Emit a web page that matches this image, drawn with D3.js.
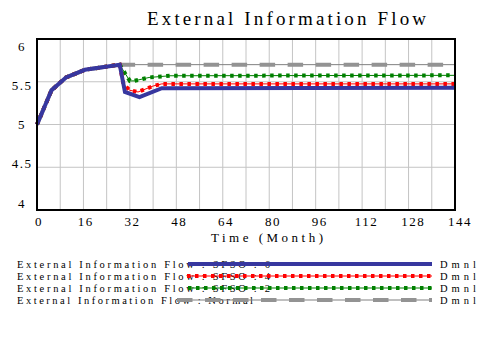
<!DOCTYPE html>
<html><head><meta charset="utf-8">
<script src="https://cdn.jsdelivr.net/npm/d3@7"></script>
<style>body{margin:0;background:#fff}svg{display:block}</style>
</head><body>
<svg id="c" width="479" height="360"></svg>
<script>
// ---- data ----
const xTicks = [0, 16, 32, 48, 64, 80, 96, 112, 128, 144];
const yTicks = [6, 5.5, 5, 4.5, 4];
const yTickLabels = ["6", "5.5", "5", "4.5", "4"];
const tSFSO6 = [0, 5, 10, 16.5, 28.5, 30.3, 35.3, 43, 144];
const vSFSO6 = [5.0, 5.40, 5.55, 5.64, 5.70, 5.38, 5.32, 5.425, 5.43];
const tSFSO4 = [0, 5, 10, 16.5, 28.5, 29.8, 32, 34.8, 40, 43, 144];
const vSFSO4 = [5.0, 5.40, 5.55, 5.64, 5.70, 5.47, 5.40, 5.38, 5.45, 5.475, 5.475];
const tSFSO2 = [0, 5, 10, 16.5, 28.5, 30.3, 32, 33.5, 38.6, 45.8, 144];
const vSFSO2 = [5.0, 5.40, 5.55, 5.64, 5.70, 5.60, 5.51, 5.51, 5.55, 5.57, 5.575];
const tNormal = [0, 5, 10, 16.5, 28.5, 144];
const vNormal = [5.0, 5.40, 5.55, 5.64, 5.70, 5.70];
const legendLabels = ["External Information Flow : SFSO : 6", "External Information Flow : SFSO : 4", "External Information Flow : SFSO : 2", "External Information Flow : Normal"];
const unitLabel = "Dmnl";

// ---- layout ----
const FF = "'Liberation Serif', 'Times New Roman', serif";
const svg = d3.select("#c");
const L = 37, R = 455, T = 39, B = 210;
const x = d3.scaleLinear().domain([0, 144]).range([L, R]);
const y = d3.scaleLinear().domain([4, 6]).range([B, T]);
const xLab = d3.scaleLinear().domain([0, 144]).range([39, 460]);
const yLab = d3.scaleLinear().domain([6, 4]).range([46, 203]);

svg.append("text").style("font-family", FF).attr("x", 147).attr("y", 25).attr("font-size", 19)
  .attr("textLength", 279).attr("lengthAdjust", "spacing").text("External Information Flow");

// grid
const g = svg.append("g");
g.selectAll(".vg").data(d3.range(8, 144, 8)).join("line")
  .attr("x1", d => x(d)).attr("x2", d => x(d)).attr("y1", T).attr("y2", B)
  .attr("stroke", "#c4c4c4").attr("stroke-width", 1);
g.selectAll(".hg").data([4.5, 5, 5.5]).join("line")
  .attr("x1", L).attr("x2", R).attr("y1", d => y(d)).attr("y2", d => y(d))
  .attr("stroke", "#c4c4c4").attr("stroke-width", 1);

// tick labels
svg.selectAll(".xl").data(xTicks).join("text").style("font-family", FF)
  .attr("x", d => xLab(d)).attr("y", 226).attr("text-anchor", "middle")
  .attr("font-size", 13).attr("letter-spacing", 1.5).text(d => d);
svg.selectAll(".yl").data(yTicks).join("text").style("font-family", FF)
  .attr("x", 22).attr("y", d => yLab(d) + 4.5).attr("text-anchor", "middle")
  .attr("font-size", 13).attr("letter-spacing", 1.5).text((d, i) => yTickLabels[i]);
svg.append("text").style("font-family", FF).attr("x", 211).attr("y", 242).attr("font-size", 13)
  .attr("textLength", 112).attr("lengthAdjust", "spacing").text("Time (Month)");

// series
const line = d3.line().x(d => x(d[0])).y(d => y(d[1]));
const zip = (t, v) => t.map((d, i) => [d, v[i]]);
const series = [
  {t: tNormal, v: vNormal, color: "#808080", thin: 1, thick: 4, dash: "15.5,12.5", mcolor: "#939393"},
  {t: tSFSO2, v: vSFSO2, color: "#008000", thin: 1, thick: 4, dash: "3.5,4.5", mcolor: "#008000"},
  {t: tSFSO4, v: vSFSO4, color: "#ff0000", thin: 1, thick: 4, dash: "3.5,4.5", mcolor: "#ff0000"},
  {t: tSFSO6, v: vSFSO6, color: "#37379f", thin: 4, thick: 0, dash: null}
];
const pg = svg.append("g");
series.forEach(s => {
  const d = zip(s.t, s.v);
  pg.append("path").attr("d", line(d)).attr("fill", "none")
    .attr("stroke", s.color).attr("stroke-width", s.thin);
  if (s.thick) pg.append("path").attr("d", line(d)).attr("fill", "none")
    .attr("stroke", s.mcolor).attr("stroke-width", s.thick).attr("stroke-dasharray", s.dash);
});

// frame
svg.append("rect").attr("x", L).attr("y", T).attr("width", R - L).attr("height", B - T)
  .attr("fill", "none").attr("stroke", "#000").attr("stroke-width", 2);

// legend
const legY = [264, 276, 288, 300];
const legW = [253, 253, 253, 236];
const legStart = [188, 187, 188, 177];
const legStyles = [series[3], series[2], series[1], series[0]];
legendLabels.forEach((lab, i) => {
  svg.append("text").style("font-family", FF).attr("x", 17).attr("y", legY[i] + 3.5).attr("font-size", 10.5)
    .attr("textLength", legW[i]).attr("lengthAdjust", "spacing").text(lab);
  const s = legStyles[i];
  svg.append("line").attr("x1", legStart[i]).attr("x2", 432).attr("y1", legY[i]).attr("y2", legY[i])
    .attr("stroke", s.color).attr("stroke-width", s.thin);
  if (s.thick) svg.append("line").attr("x1", legStart[i]).attr("x2", 432).attr("y1", legY[i]).attr("y2", legY[i])
    .attr("stroke", s.mcolor).attr("stroke-width", s.thick).attr("stroke-dasharray", s.dash);
  svg.append("text").style("font-family", FF).attr("x", 440).attr("y", legY[i] + 3.5).attr("font-size", 10.5)
    .attr("textLength", 36).attr("lengthAdjust", "spacing").text(unitLabel);
});
</script>
</body></html>
